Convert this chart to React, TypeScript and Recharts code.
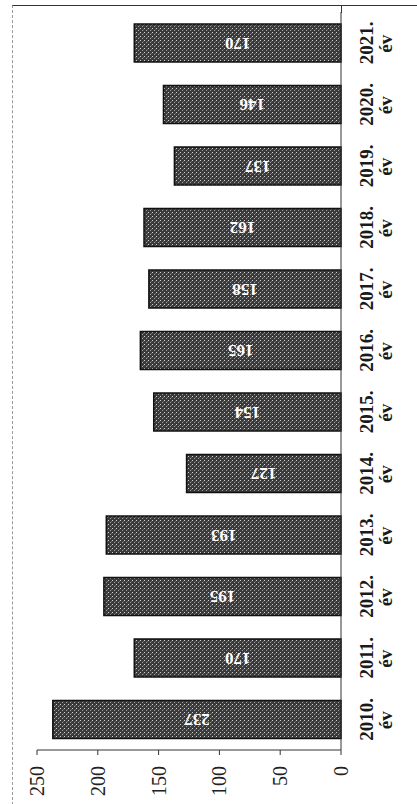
import { Bar, BarChart, LabelList, XAxis, YAxis } from "recharts";

const years = ["2010.", "2011.", "2012.", "2013.", "2014.", "2015.", "2016.", "2017.", "2018.", "2019.", "2020.", "2021."];
const counts = [237, 170, 195, 193, 127, 154, 165, 158, 162, 137, 146, 170];
const valueTicks = [0, 50, 100, 150, 200, 250];
const unit = "év";

const data = years.map((year, i) => ({ year, count: counts[i] }));

const serif = "'Liberation Serif', 'DejaVu Serif', serif";

function ValueTick(props: any) {
  const { x, payload } = props;
  return (
    <text
      transform={`translate(${x},766) rotate(-90)`}
      textAnchor="end"
      dy="0.35em"
      fontFamily={serif}
      fontSize={20}
      fill="#222"
    >
      {payload.value}
    </text>
  );
}

function YearTick(props: any) {
  const { y, payload } = props;
  return (
    <g transform={`translate(366,${y}) rotate(-90)`} fontFamily={serif} fontWeight="bold" fill="#1a1a1a">
      <text textAnchor="middle" dy="0.35em" fontSize={19}>
        {payload.value}
      </text>
      <text x={-1} y={19} textAnchor="middle" dy="0.35em" fontSize={19}>
        {unit}
      </text>
    </g>
  );
}

function BarValue(props: any) {
  const { x, y, width, height, value } = props;
  const cx = x + width / 2;
  const cy = y + height / 2;
  return (
    <text
      x={cx}
      y={cy}
      transform={`rotate(180,${cx},${cy})`}
      textAnchor="middle"
      dominantBaseline="central"
      fontFamily={serif}
      fontWeight="bold"
      fontSize={17}
      fill="#fff"
    >
      {value}
    </text>
  );
}

export default function App() {
  return (
    <div style={{ position: "absolute", left: 0, top: 0, width: 417, height: 804, background: "#fff" }}>
      <div style={{ position: "absolute", left: 12, top: 5, width: 405, height: 799, borderTop: "1.5px solid #333", borderLeft: "1px dashed #999" }} />
      <div style={{ position: "absolute", left: 341, top: 5, width: 1, height: 8, background: "#333" }} />
      <div style={{ position: "absolute", left: 0, top: 0 }}>
        <BarChart
          width={417}
          height={804}
          data={data}
          layout="vertical"
          margin={{ top: 12, right: 0, bottom: 0, left: 37 }}
        >
          <defs>
            <pattern id="tex" width="4" height="4" patternUnits="userSpaceOnUse">
              <rect width="4" height="4" fill="#3a3a3a" />
              <rect x="0" y="0" width="1" height="1" fill="#d0d0d0" />
              <rect x="2" y="2" width="1" height="1" fill="#a0a0a0" />
              <rect x="3" y="1" width="1" height="1" fill="#6a6a6a" />
            </pattern>
          </defs>
          <XAxis
            type="number"
            domain={[0, 250]}
            ticks={valueTicks}
            reversed
            height={54}
            tick={<ValueTick />}
            tickSize={5}
            stroke="#333"
            interval={0}
          />
          <YAxis
            type="category"
            dataKey="year"
            orientation="right"
            reversed
            width={76}
            tick={<YearTick />}
            tickLine={false}
            stroke="#333"
            interval={0}
          />
          <Bar dataKey="count" fill="url(#tex)" stroke="#111" strokeWidth={1.5} barSize={38} isAnimationActive={false}>
            <LabelList dataKey="count" content={<BarValue />} />
          </Bar>
        </BarChart>
      </div>
    </div>
  );
}
